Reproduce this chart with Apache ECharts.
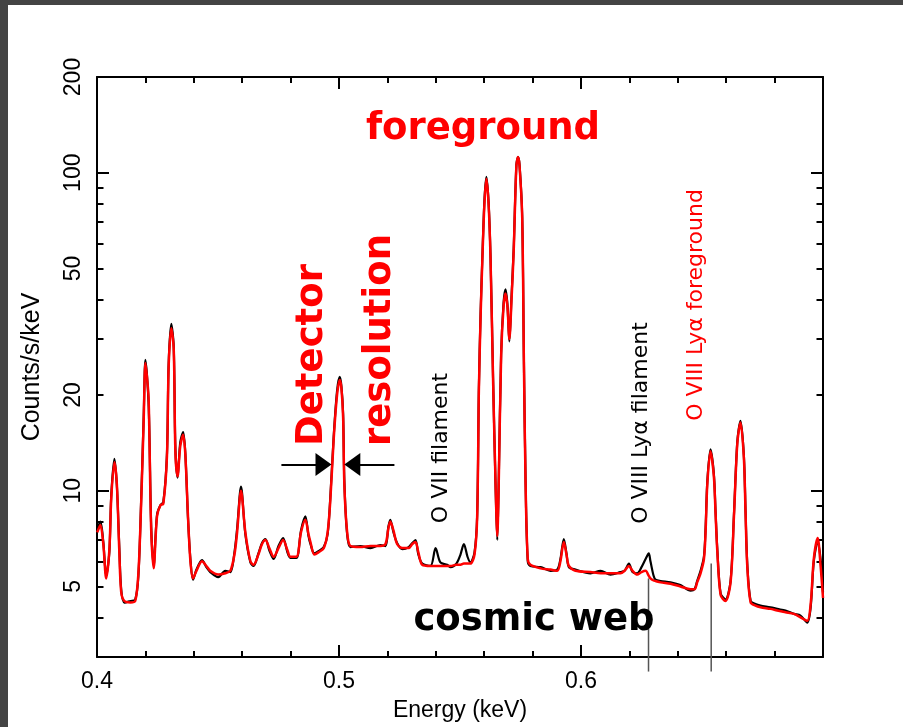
<!DOCTYPE html>
<html>
<head>
<meta charset="utf-8">
<script src="https://cdn.jsdelivr.net/npm/echarts@6/dist/echarts.min.js"></script>
<style>
html,body{margin:0;padding:0;background:#fff;}
#chart{width:903px;height:727px;}
</style>
</head>
<body>
<div id="chart"></div>
<script>
// Energy grid (keV)
const energy = [
0.4001,0.4014,0.4026,0.4038,0.4051,0.4059,0.4072,0.4082,0.4092,0.4100,
0.4113,0.4138,0.4158,0.4171,0.4182,0.4193,0.4200,0.4206,0.4213,0.4217,
0.4224,0.4234,0.4248,0.4262,0.4274,0.4289,0.4296,0.4307,0.4317,0.4324,
0.4333,0.4344,0.4356,0.4365,0.4376,0.4386,0.4397,0.4411,0.4434,0.4452,
0.4468,0.4501,0.4530,0.4551,0.4568,0.4579,0.4595,0.4613,0.4634,0.4647,
0.4667,0.4682,0.4696,0.4712,0.4730,0.4750,0.4769,0.4787,0.4799,0.4824,
0.4843,0.4861,0.4874,0.4882,0.4898,0.4915,0.4937,0.4953,0.4964,0.4978,
0.4992,0.5003,0.5010,0.5017,0.5022,0.5033,0.5047,0.5088,0.5130,0.5171,
0.5192,0.5204,0.5212,0.5225,0.5240,0.5262,0.5288,0.5303,0.5316,0.5328,
0.5344,0.5378,0.5399,0.5419,0.5447,0.5461,0.5485,0.5502,0.5516,0.5531,
0.5543,0.5560,0.5571,0.5578,0.5585,0.5592,0.5601,0.5609,0.5618,0.5626,
0.5637,0.5647,0.5654,0.5660,0.5670,0.5680,0.5688,0.5696,0.5704,0.5713,
0.5722,0.5733,0.5740,0.5746,0.5757,0.5764,0.5771,0.5780,0.5791,0.5833,
0.5874,0.5902,0.5915,0.5929,0.5940,0.5950,0.5977,0.6039,0.6081,0.6122,
0.6163,0.6180,0.6198,0.6213,0.6232,0.6250,0.6267,0.6280,0.6287,0.6300,
0.6308,0.6329,0.6370,0.6411,0.6453,0.6469,0.6480,0.6494,0.6508,0.6515,
0.6522,0.6535,0.6549,0.6556,0.6563,0.6577,0.6597,0.6618,0.6632,0.6646,
0.6659,0.6673,0.6680,0.6687,0.6701,0.6721,0.6742,0.6783,0.6811,0.6845,
0.6880,0.6907,0.6935,0.6949,0.6962,0.6978,0.6990,0.7000
];
// Foreground model (red), counts/s/keV
const model = [
7.4,7.8,6.8,5.3,6.5,9.5,12.3,10.5,6.5,4.8,
4.5,4.45,4.5,5.5,8.9,16.7,25.2,23.0,19.7,14.1,
7.5,5.7,8.3,9.0,9.1,12.8,24.5,32.4,28.0,13.2,
11.1,13.8,15.0,13.0,8.3,6.0,5.3,5.6,6.0,5.8,
5.6,5.45,5.5,5.6,6.3,7.4,10.0,7.4,6.0,5.85,
6.3,6.8,7.0,6.6,6.2,6.6,7.0,6.5,6.2,6.2,
7.4,8.1,7.3,6.9,6.3,6.4,6.6,7.4,9.3,14.5,
20.0,22.3,21.0,17.0,10.5,7.5,6.7,6.65,6.7,6.7,
6.8,7.6,8.0,7.5,6.8,6.6,6.6,6.8,6.9,6.4,
5.85,5.8,5.8,5.8,5.8,5.8,5.85,5.85,5.9,5.9,
5.9,6.3,8.3,20.7,35,52.3,80,95.7,80,54.3,
21.7,10.5,7.2,10.5,26.6,38,41.7,38,30,40,
57,105,112,105,72.6,25.6,10.5,6.1,5.85,5.7,
5.65,5.6,6.0,6.9,6.3,5.8,5.6,5.55,5.5,5.5,
5.5,5.6,5.8,5.6,5.45,5.55,5.6,5.4,5.3,5.22,
5.2,5.15,5.1,5.0,4.9,4.9,5.15,5.5,6.1,7.5,
10.5,13.3,11.1,8.5,6.5,4.7,4.5,5.15,8.3,14.1,
16.4,12.7,8.5,5.8,4.45,4.35,4.3,4.25,4.2,4.15,
4.1,4.0,3.9,4.4,6.1,7.1,5.8,4.6
];
// Observed spectrum with filament (black)
const observed = [
7.6,8.0,6.9,5.4,6.4,9.7,12.6,10.4,6.7,4.9,
4.45,4.5,4.55,5.4,9.1,17.2,25.8,23.4,19.0,14.6,
7.7,5.8,8.4,9.0,9.2,13.0,25.0,33.5,28.4,13.5,
11.0,14.2,15.3,13.1,8.2,6.1,5.25,5.65,6.05,5.75,
5.55,5.35,5.6,5.55,6.4,7.6,10.3,7.3,5.95,5.8,
6.35,6.85,7.05,6.5,6.1,6.7,7.1,6.4,6.15,6.15,
7.5,8.3,7.2,6.8,6.35,6.45,6.65,7.3,9.5,14.8,
20.6,22.8,21.3,17.5,10.8,7.4,6.65,6.7,6.6,6.75,
6.7,7.7,8.1,7.4,6.85,6.55,6.65,6.85,7.0,6.3,
5.9,5.8,6.6,5.95,5.85,5.75,5.9,6.3,6.8,6.2,
5.95,6.4,8.4,21,36,53,82,97,81,55,
22,10.3,7.0,10.7,27,39,43,38.5,29.5,41,
58,106,112,106,73,26,10.7,6.0,5.8,5.75,
5.6,5.65,6.1,7.05,6.35,5.75,5.65,5.5,5.6,5.45,
5.55,5.6,5.9,5.55,5.5,5.75,6.1,6.35,6.0,5.4,
5.25,5.2,5.15,5.05,4.85,4.9,5.2,5.6,6.2,7.7,
10.7,13.5,11.3,8.6,6.6,4.75,4.55,5.2,8.4,14.3,
16.6,12.9,8.6,5.9,4.5,4.4,4.35,4.3,4.25,4.2,
4.1,4.05,3.85,4.3,6.0,6.9,6.1,4.8
];
// Axis ticks and labels
const xTickLabels = ['0.4','0.5','0.6'];
const yLabelValues = [5,10,20,50,100,200];
const yMajorTicks = [10,100];
const yMinorTicks = [3,4,5,6,7,8,9,20,30,40,50,60,70,80,90,200];
// O VIII line markers (energy, top value)
const markerEnergy = [0.6279, 0.6538];
const markerTop = [5.3, 5.9];
const markerBottom = 2.7;
// Detector resolution arrows (from, to energy; level)
const arrowFrom = [0.4762, 0.5229];
const arrowTo = [0.4936, 0.5055];
const arrowLevel = 12.1;

const chart = echarts.init(document.getElementById('chart'), null, {renderer:'canvas'});
const axisFont = '"Liberation Sans", Arial, sans-serif';
const annFont = '"DejaVu Sans", Verdana, sans-serif';
const black = '#000';

function yAx(pos, ticks, len, showLine, labels){
  return {
    type:'log', logBase:10, min:3, max:200, position:pos, gridIndex:0,
    axisLine:{show:showLine, lineStyle:{color:black, width:2}},
    axisTick:{show:true, inside:true, length:len, customValues:ticks, lineStyle:{color:black, width:2}},
    minorTick:{show:false},
    splitLine:{show:false},
    axisLabel: labels ? {show:true, customValues:yLabelValues, rotate:90, margin:12,
        color:black, fontSize:23, fontFamily:axisFont, formatter:v=>String(v)} : {show:false},
    name: labels ? 'Counts/s/keV' : '',
    nameLocation:'middle', nameGap:52, nameRotate:90,
    nameTextStyle:{color:black, fontSize:25, fontFamily:axisFont}
  };
}

const markerSeries = markerEnergy.map((e,i)=>({
  type:'line', xAxisIndex:0, yAxisIndex:0, clip:false, silent:true,
  data:[[e, markerTop[i]],[e, markerBottom]],
  showSymbol:false, symbol:'none',
  lineStyle:{color:'#555', width:1.5}, z:1
}));

chart.setOption({
  animation:false,
  backgroundColor:'#fff',
  grid:{left:97, right:80, top:77, bottom:70, containLabel:false},
  xAxis:[
    {type:'value', min:0.4, max:0.7, interval:0.1, position:'bottom',
     axisLine:{lineStyle:{color:black, width:2}},
     axisTick:{inside:true, length:12, lineStyle:{color:black, width:2}},
     minorTick:{show:true, splitNumber:5, length:6, lineStyle:{color:black, width:2}},
     splitLine:{show:false},
     axisLabel:{color:black, fontSize:23, fontFamily:axisFont, margin:13,
       formatter:v=>{const s=(+v).toFixed(1); return xTickLabels.indexOf(s)>=0?s:'';}},
     name:'Energy (keV)', nameLocation:'middle', nameGap:42,
     nameTextStyle:{color:black, fontSize:23, fontFamily:axisFont}},
    {type:'value', min:0.4, max:0.7, interval:0.1, position:'top',
     axisLine:{lineStyle:{color:black, width:2}},
     axisTick:{inside:true, length:12, lineStyle:{color:black, width:2}},
     minorTick:{show:true, splitNumber:5, length:6, lineStyle:{color:black, width:2}},
     splitLine:{show:false}, axisLabel:{show:false}}
  ],
  yAxis:[
    yAx('left', yMajorTicks, 12, true, true),
    yAx('left', yMinorTicks, 6.5, false, false),
    yAx('right', yMajorTicks, 12, true, false),
    yAx('right', yMinorTicks, 6.5, false, false)
  ],
  series:[
    ...markerSeries,
    {type:'line', name:'observed', xAxisIndex:0, yAxisIndex:0,
     data:energy.map((e,i)=>[e, observed[i]]), showSymbol:false, symbol:'none',
     smooth:0.3, lineStyle:{color:black, width:2.2}, z:2},
    {type:'line', name:'model', xAxisIndex:0, yAxisIndex:0,
     data:energy.map((e,i)=>[e, model[i]]), showSymbol:false, symbol:'none',
     smooth:0.3, lineStyle:{color:'#ff0000', width:2.5}, z:3,
     markLine:{silent:true, symbol:['none','triangle'], symbolSize:[23,16],
       label:{show:false}, lineStyle:{color:black, width:2, type:'solid'},
       emphasis:{disabled:true},
       data: arrowFrom.map((f,i)=>[{coord:[f, arrowLevel]},{coord:[arrowTo[i], arrowLevel]}])}
    }
  ],
  graphic:[
    {type:'rect', shape:{x:0,y:0,width:8,height:727}, style:{fill:'#444'}},
    {type:'rect', shape:{x:0,y:0,width:903,height:5}, style:{fill:'#444'}},
    {type:'text', x:483, y:129, z:10, style:{text:'foreground', font:'bold 37px '+annFont, fill:'#ff0000', align:'center', verticalAlign:'middle'}},
    {type:'text', x:312, y:355, rotation:Math.PI/2, z:10, style:{text:'Detector', font:'bold 37px '+annFont, fill:'#ff0000', align:'center', verticalAlign:'middle'}},
    {type:'text', x:380, y:340, rotation:Math.PI/2, z:10, style:{text:'resolution', font:'bold 37px '+annFont, fill:'#ff0000', align:'center', verticalAlign:'middle'}},
    {type:'text', x:441, y:448, rotation:Math.PI/2, z:10, style:{text:'O VII filament', font:'22px '+annFont, fill:'#000', align:'center', verticalAlign:'middle'}},
    {type:'text', x:641, y:423, rotation:Math.PI/2, z:10, style:{text:'O VIII Lyα filament', font:'22px '+annFont, fill:'#000', align:'center', verticalAlign:'middle'}},
    {type:'text', x:696, y:305, rotation:Math.PI/2, z:10, style:{text:'O VIII Lyα foreground', font:'22px '+annFont, fill:'#ff0000', align:'center', verticalAlign:'middle'}},
    {type:'text', x:534, y:620, z:10, style:{text:'cosmic web', font:'bold 37px '+annFont, fill:'#000', align:'center', verticalAlign:'middle'}}
  ]
});
</script>
</body>
</html>
